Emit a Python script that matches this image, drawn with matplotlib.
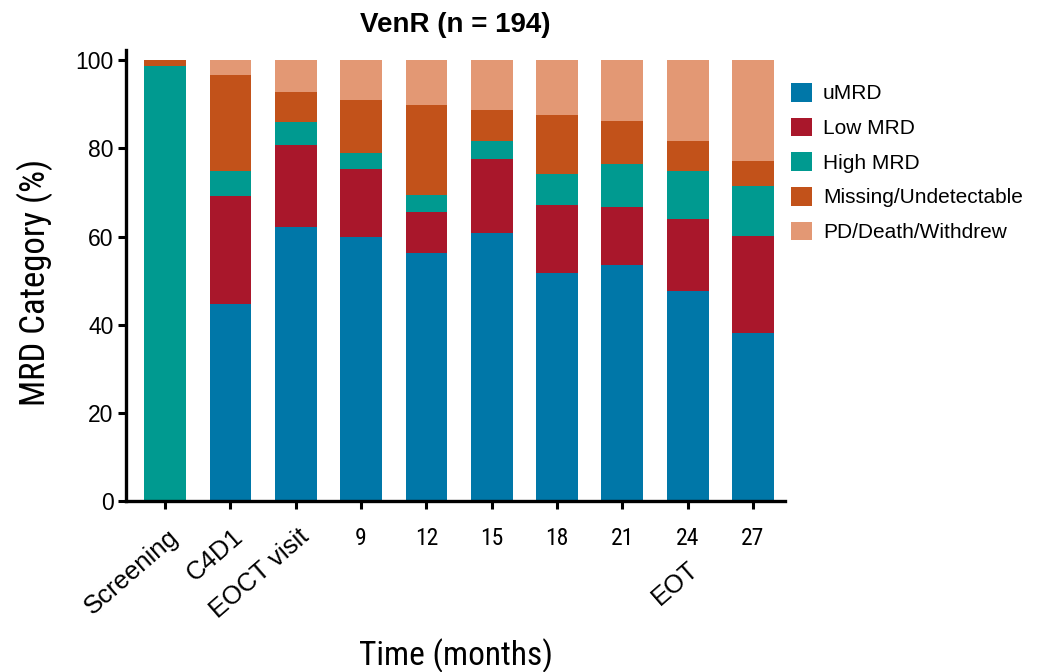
import matplotlib
matplotlib.use("Agg")
import matplotlib.pyplot as plt
import matplotlib.transforms as mtransforms
import numpy as np

# stacked MRD categories per visit (percent of patients)
visits = ["Screening", "C4D1", "EOCT visit", "9", "12", "15", "18", "21", "24", "27"]
umrd     = [0.0, 44.6, 62.1, 59.9, 56.2, 60.7, 51.7, 53.5, 47.6, 38.0]
low_mrd  = [0.0, 24.7, 18.7, 15.4,  9.3, 16.9, 15.4, 13.1, 16.3, 22.2]
high_mrd = [98.6, 5.5,  5.2,  3.6,  3.9,  4.0,  7.1,  9.8, 11.0, 11.3]
missing  = [1.4, 21.8,  6.7, 12.0, 20.4,  7.1, 13.3,  9.9,  6.7,  5.7]
pd_death = [0.0,  3.4,  7.3,  9.1, 10.2, 11.3, 12.5, 13.7, 18.4, 22.8]

series = [
    ("uMRD", umrd, "#0077a8"),
    ("Low MRD", low_mrd, "#a9172b"),
    ("High MRD", high_mrd, "#009a90"),
    ("Missing/Undetectable", missing, "#c2521a"),
    ("PD/Death/Withdrew", pd_death, "#e39874"),
]

narrow = ["Roboto Condensed", "DejaVu Sans"]
plain = ["Liberation Sans", "DejaVu Sans"]

fig = plt.figure(figsize=(10.5, 6.72), dpi=100)
ax = fig.add_axes([0.12, 0.2545, 0.6276, 0.671])

x = np.arange(len(visits))
bottom = np.zeros(len(visits))
for label, vals, color in series:
    vals = np.array(vals)
    ax.bar(x, vals, width=0.64, bottom=bottom, color=color, label=label,
           edgecolor="none")
    bottom += vals

ax.set_xlim(-0.6, 9.49)
ax.set_ylim(0, 102.3)
ax.set_yticks([0, 20, 40, 60, 80, 100])

for s in ["top", "right"]:
    ax.spines[s].set_visible(False)
for s in ["left", "bottom"]:
    ax.spines[s].set_linewidth(2.4)
ax.tick_params(axis="both", width=2.2, length=6, direction="out")
ax.tick_params(axis="x", pad=12.5)
ax.tick_params(axis="y", pad=3, labelsize=16.5)

ax.set_xticks(x)
ax.set_xticklabels(visits)
for lab in ax.get_yticklabels():
    lab.set_family(plain)
for lab in ax.get_xticklabels():
    lab.set_family(narrow)
    lab.set_fontsize(17)

# the first three visits get slanted labels
slant = 41
shift = mtransforms.ScaledTranslation(0.02, 0.02, fig.dpi_scale_trans)
for lab in ax.get_xticklabels()[:3]:
    lab.set_family(plain)
    lab.set_fontsize(18.5)
    lab.set_rotation(slant)
    lab.set_rotation_mode("anchor")
    lab.set_ha("right")
    lab.set_va("top")
    lab.set_transform(lab.get_transform() + shift)

ax.annotate("EOT", xy=(8, 0), xycoords=("data", "axes fraction"),
            xytext=(-0.5, -40), textcoords="offset points",
            rotation=slant, rotation_mode="anchor", ha="right", va="top",
            fontsize=18.5, family=plain, annotation_clip=False)

ax.set_title("VenR (n = 194)", fontsize=20, fontweight="bold", family=plain, pad=13)
ax.set_ylabel("MRD Category (%)", fontsize=25, family=narrow)
ax.yaxis.set_label_coords(-0.111, 0.485)
ax.set_xlabel("Time (months)", fontsize=24, family=narrow)
ax.xaxis.set_label_coords(0.5, -0.305)

leg = ax.legend(loc="upper left", bbox_to_anchor=(791 / 1050, 1 - 83 / 672),
                bbox_transform=fig.transFigure, frameon=False,
                prop={"family": plain, "size": 15}, handlelength=1.0,
                handleheight=1.0, handletextpad=0.53, labelspacing=0.68,
                borderpad=0, borderaxespad=0)

fig.savefig("out.png", dpi=100)
